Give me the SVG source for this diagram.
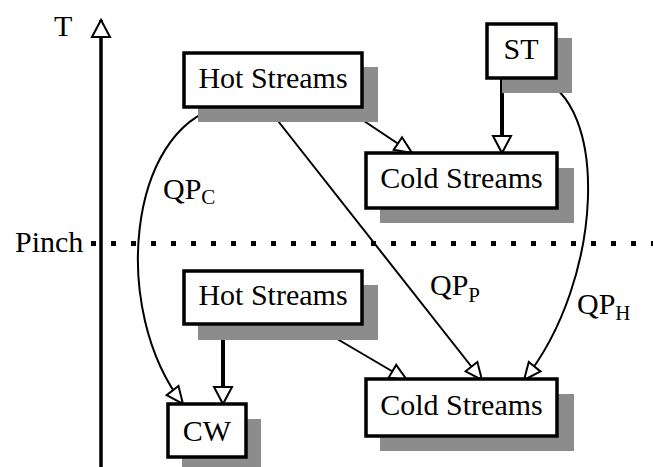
<svg xmlns="http://www.w3.org/2000/svg" width="653" height="467" viewBox="0 0 653 467">
  <style>
    .shadow { fill: #8c8c8c; }
    .box { fill: #ffffff; stroke: #000000; stroke-width: 3.5; }
    .label { font-family: "Liberation Serif", "Times New Roman", serif; font-size: 30px; fill: #000000; }
    .sub { font-size: 21px; }
    .thin { fill: none; stroke: #000000; stroke-width: 2; }
    .thick { fill: none; stroke: #000000; stroke-width: 4; }
  </style>
  <defs>
    <marker id="arrow-open" markerUnits="userSpaceOnUse" viewBox="-20 -12 24 24" refX="0" refY="0" markerWidth="24" markerHeight="24" orient="auto" overflow="visible">
      <path d="M-17,-7.5 L0,0 L-17,7.5 Z" fill="#ffffff" stroke="#000000" stroke-width="2"/>
    </marker>
    <marker id="arrow-open-big" markerUnits="userSpaceOnUse" viewBox="-22 -12 26 24" refX="0" refY="0" markerWidth="26" markerHeight="24" orient="auto" overflow="visible">
      <path d="M-17,-9 L0,0 L-17,9 Z" fill="#ffffff" stroke="#000000" stroke-width="2"/>
    </marker>
  </defs>

  <rect width="653" height="467" fill="#ffffff"/>

  <!-- temperature axis -->
  <g id="axis">
    <line x1="101" y1="467" x2="101" y2="20" stroke="#000000" stroke-width="3.5" marker-end="url(#arrow-open-big)"/>
    <text class="label" x="54" y="36">T</text>
  </g>

  <!-- pinch line -->
  <g id="pinch">
    <text class="label" x="15" y="252">Pinch</text>
    <line x1="91" y1="243.5" x2="653" y2="243.5" stroke="#000000" stroke-width="5" stroke-dasharray="5 15"/>
  </g>

  <!-- connectors -->
  <g id="connectors">
    <!-- above pinch -->
    <line class="thin" x1="343" y1="107" x2="412" y2="153" marker-end="url(#arrow-open)"/>
    <line class="thick" x1="502" y1="78" x2="502" y2="153" marker-end="url(#arrow-open-big)"/>
    <!-- QP_P: hot streams above pinch to cold streams below pinch -->
    <line class="thin" x1="267" y1="107" x2="482" y2="380" marker-end="url(#arrow-open)"/>
    <!-- QP_H: steam to cold streams below pinch -->
    <path class="thin" d="M537,78 C610,100 604,280 524,380" marker-end="url(#arrow-open)"/>
    <!-- QP_C: hot streams above pinch to cooling water -->
    <path class="thin" d="M220,107 C128,130 110,310 183,404" marker-end="url(#arrow-open)"/>
    <!-- below pinch -->
    <line class="thick" x1="223" y1="324" x2="223" y2="404" marker-end="url(#arrow-open-big)"/>
    <line class="thin" x1="310" y1="323" x2="407" y2="380" marker-end="url(#arrow-open)"/>
  </g>

  <!-- connector labels -->
  <g id="labels">
    <text class="label" x="163" y="199">QP<tspan class="sub" dy="5">C</tspan></text>
    <text class="label" x="430" y="295">QP<tspan class="sub" dy="7">P</tspan></text>
    <text class="label" x="577" y="314">QP<tspan class="sub" dy="6">H</tspan></text>
  </g>

  <g id="hot-above">
    <rect class="shadow" x="198" y="67" width="180" height="55"/>
    <rect class="box" x="184" y="53" width="178" height="54"/>
    <text class="label" x="273" y="88" text-anchor="middle">Hot Streams</text>
  </g>

  <g id="steam">
    <rect class="shadow" x="502" y="38" width="70" height="55"/>
    <rect class="box" x="487" y="24" width="69" height="54"/>
    <text class="label" x="521" y="59" text-anchor="middle">ST</text>
  </g>

  <g id="cold-above">
    <rect class="shadow" x="380" y="168" width="194" height="55"/>
    <rect class="box" x="366" y="153" width="191" height="55"/>
    <text class="label" x="461.5" y="188" text-anchor="middle">Cold Streams</text>
  </g>

  <g id="hot-below">
    <rect class="shadow" x="198" y="285" width="180" height="55"/>
    <rect class="box" x="184" y="271" width="178" height="53"/>
    <text class="label" x="273" y="305" text-anchor="middle">Hot Streams</text>
  </g>

  <g id="cooling-water">
    <rect class="shadow" x="182" y="419" width="79" height="50"/>
    <rect class="box" x="168" y="404" width="78" height="53"/>
    <text class="label" x="207" y="441" text-anchor="middle">CW</text>
  </g>

  <g id="cold-below">
    <rect class="shadow" x="380" y="394" width="194" height="57"/>
    <rect class="box" x="366" y="379" width="191" height="57"/>
    <text class="label" x="461.5" y="415" text-anchor="middle">Cold Streams</text>
  </g>
</svg>
